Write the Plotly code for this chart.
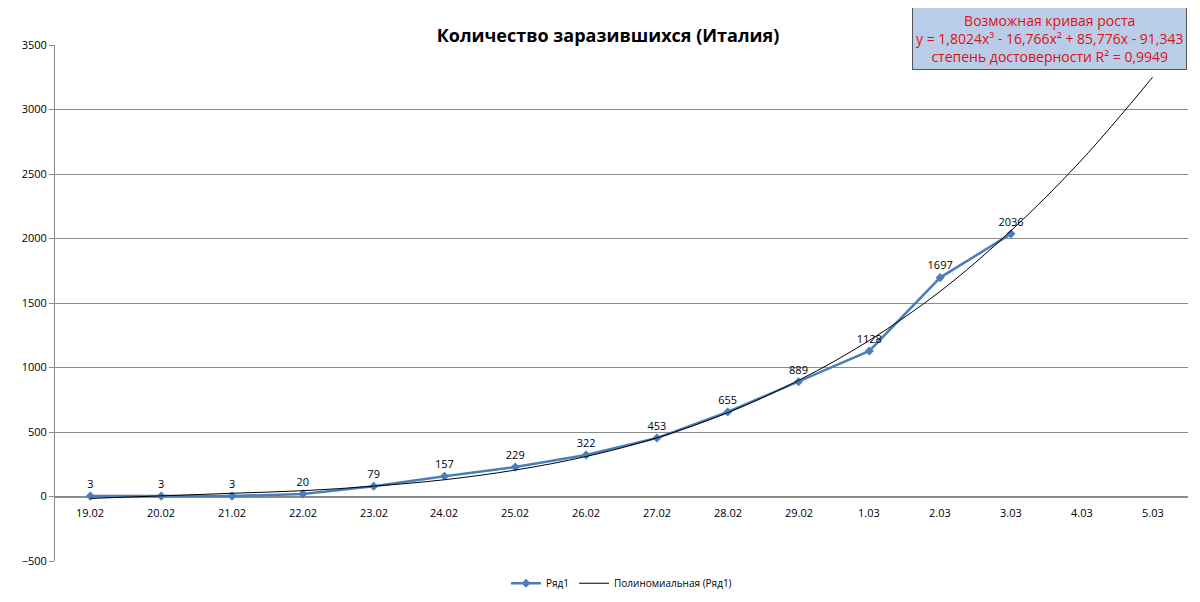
import plotly.graph_objects as go

dates = ["19.02", "20.02", "21.02", "22.02", "23.02", "24.02", "25.02", "26.02",
         "27.02", "28.02", "29.02", "1.03", "2.03", "3.03", "4.03", "5.03"]
cases = [3, 3, 3, 20, 79, 157, 229, 322, 453, 655, 889, 1128, 1697, 2036]
# trend curve at each category
trend = [-15, 5, 25, 45, 80, 130, 205, 310, 455, 650, 900, 1210, 1590, 2060, 2610, 3250]

blue = "#4a7ebb"
fig = go.Figure()
fig.add_trace(go.Scatter(
    x=dates[:len(cases)], y=cases, mode="lines+markers+text", name="Ряд1",
    line=dict(color=blue, width=2.5), marker=dict(symbol="diamond", size=7, color=blue),
    text=[str(v) for v in cases], textposition="top center",
    textfont=dict(size=11, color="#000"), cliponaxis=False))
fig.add_trace(go.Scatter(
    x=dates, y=trend, mode="lines", name="Полиномиальная (Ряд1)",
    line=dict(color="#000", width=1, shape="spline")))

# category labels sit just under the zero line (x by index, category axis)
for i, d in enumerate(dates):
    fig.add_annotation(x=i, y=0, text=d, showarrow=False, yanchor="top", yshift=-6,
                       font=dict(size=11, color="#000"))

fig.add_annotation(
    xref="paper", yref="paper", x=0.999, y=1.073, xanchor="right", yanchor="top",
    text="Возможная кривая роста<br>y = 1,8024x³ - 16,766x² + 85,776x - 91,343<br>степень достоверности R² = 0,9949",
    showarrow=False, align="center", font=dict(size=14, color="#e01010"),
    bgcolor="#b9cde8", bordercolor="#555", borderwidth=1, borderpad=3)

fig.update_layout(
    width=1200, height=602, paper_bgcolor="white", plot_bgcolor="white",
    font=dict(family="Open Sans, Liberation Sans, sans-serif", color="#000"),
    title=dict(text="<b>Количество заразившихся (Италия)</b>", x=0.5, y=0.965,
               font=dict(size=18)),
    margin=dict(l=47, r=20, t=37, b=36),
    showlegend=True,
    legend=dict(orientation="h", x=0.5, xanchor="center", y=-0.015, yanchor="top",
                font=dict(size=10)),
    xaxis=dict(type="category", showticklabels=False, showgrid=False,
               range=[-0.5, 15.5]),
    yaxis=dict(range=[-500, 3500], dtick=500, showgrid=True, gridcolor="#8c8c8c",
               gridwidth=1, zeroline=True, zerolinecolor="#8c8c8c",
               showline=True, linecolor="#8c8c8c", ticks="outside", tickcolor="#8c8c8c",
               tickfont=dict(size=11)),
)
fig.write_html("out.html")
